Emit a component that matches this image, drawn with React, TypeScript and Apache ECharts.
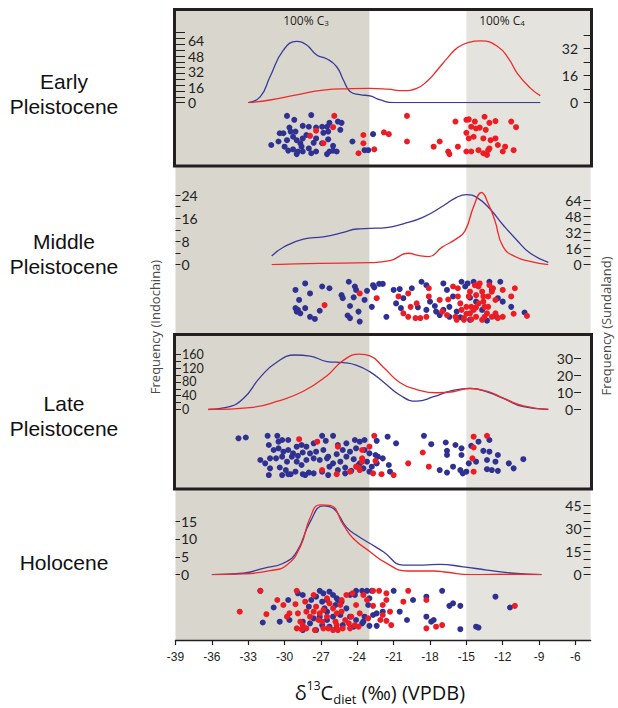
import React, { useEffect, useRef } from "react";
import * as echarts from "echarts";

// ---------- axis / band data ----------
const xTicks = [-39, -36, -33, -30, -27, -24, -21, -18, -15, -12, -9, -6];
const xMin = -39;
const xMax = -4.75;
const c3Band = [-39, -23];
const c4Band = [-15, -4.75];

// ---------- density curves ----------
const earlyBlueCurve = [[-33, 0], [-32, 6.2], [-31.2, 26.7], [-30.1, 54], [-29, 63], [-28.2, 59.7], [-27.35, 49], [-26.5, 45], [-25.7, 37], [-25.15, 23.4], [-24.6, 11.6], [-23.8, 8.3], [-22.95, 6.9], [-22.1, 2.8], [-21, 0], [-19, 0], [-15, 0], [-12, 0], [-8.9, 0]];
const earlyRedCurve = [[-33, 0], [-31.2, 1.6], [-29, 4.6], [-26.8, 7.5], [-24.5, 8.3], [-22.95, 8.5], [-21.5, 8], [-20.2, 7.1], [-19.1, 8.5], [-18.2, 13], [-17.4, 19.4], [-16.5, 27], [-15.8, 32.2], [-14.8, 35.8], [-13.8, 36.6], [-12.4, 33.2], [-11.5, 26], [-10.8, 17.4], [-9.7, 8.5], [-8.9, 4.2]];
const middleBlueCurve = [[-31.06, 3], [-30.1, 6], [-28.45, 8.8], [-26.8, 9.6], [-25.15, 11.1], [-24.05, 12.3], [-22.95, 12.5], [-21.6, 12.8], [-20.2, 14.1], [-18.55, 16.4], [-16.9, 20.3], [-15.8, 23.2], [-14.97, 24.1], [-14.15, 23.2], [-13.05, 19.2], [-11.95, 13.6], [-10.85, 8.5], [-9.75, 4.0], [-8.24, 0.8]];
const middleRedCurve = [[-31.06, 0], [-27.1, 1.3], [-22.95, 2], [-21.3, 4], [-19.8, 11.4], [-18.9, 9], [-18.1, 8], [-17, 17.5], [-15.8, 26], [-15.1, 34], [-14.4, 57.9], [-13.75, 72], [-13.2, 61], [-12.65, 44], [-11.95, 17.5], [-10.85, 7.4], [-9.75, 3.4], [-8.24, 0]];
const lateBlueCurve = [[-36.3, 0], [-34.8, 6], [-33.4, 32], [-32, 94], [-30.65, 137], [-29.14, 158], [-27.9, 155], [-26.5, 139], [-25.15, 136], [-24.05, 128], [-22.95, 109], [-21.85, 80], [-20.5, 42], [-19.1, 24], [-17.7, 37], [-16.35, 53], [-14.7, 61], [-13.3, 51], [-11.95, 32], [-10.3, 8], [-8.24, 0]];
const lateRedCurve = [[-36.3, 0], [-32.6, 1.3], [-30.65, 4.7], [-28.45, 10.7], [-26.5, 19.8], [-25.15, 28.8], [-23.8, 32.4], [-22.95, 31.4], [-21.85, 24.8], [-20.5, 15.8], [-19.1, 11.7], [-17.45, 9.8], [-16.1, 10.4], [-14.7, 12.3], [-13.3, 10.7], [-11.95, 6.7], [-10.3, 2.1], [-8.24, 0.1]];
const holoBlueCurve = [[-36, 0], [-33.4, 0.4], [-31.75, 1.8], [-30.1, 3.2], [-29, 6.4], [-27.9, 14.7], [-26.8, 19.2], [-25.95, 18.4], [-24.9, 13.3], [-24.05, 11], [-22.95, 8.7], [-21.85, 6.4], [-20.2, 2.7], [-18.55, 2.7], [-17.2, 2.9], [-15.25, 2.2], [-13.3, 1.3], [-11.1, 0.4], [-8.8, 0]];
const holoRedCurve = [[-36, 0], [-33.4, 0.5], [-31.2, 2.6], [-29.8, 6.4], [-28.7, 18.3], [-27.9, 37], [-27.1, 45.6], [-26.25, 45.2], [-25.15, 32.5], [-24.35, 23.8], [-22.95, 15], [-21.6, 7.5], [-19.9, 2.4], [-17.7, 2.4], [-16.6, 1.6], [-14.7, 0], [-10.85, 0.3], [-8.8, 0]];

// ---------- individual values: [d13C, jitter 0..10] ----------
const earlyBlueDots = [[-29.8, 0.6], [-29.2, 1.5], [-27.8, 0.4], [-28.5, 2.9], [-29.6, 3.3], [-30.4, 4.6], [-31.1, 7.3], [-30.5, 6.5], [-30.0, 7.7], [-29.7, 8.6], [-29.3, 5.4], [-29.0, 6.2], [-28.7, 6.9], [-28.5, 5.8], [-28.2, 5.0], [-28.0, 3.1], [-27.4, 3.3], [-26.9, 3.1], [-26.5, 3.1], [-26.3, 2.2], [-25.6, 1.9], [-25.3, 2.2], [-25.4, 3.8], [-26.4, 4.2], [-26.8, 4.5], [-27.4, 5.8], [-27.6, 6.8], [-28.0, 8.1], [-28.5, 8.8], [-28.9, 8.8], [-29.3, 8.3], [-29.8, 6.2], [-30.1, 4.6], [-29.5, 4.2], [-29.1, 4.2], [-28.6, 7.7], [-27.8, 9.2], [-27.4, 8.8], [-26.5, 9.4], [-26.3, 8.8], [-26.0, 8.6], [-25.7, 8.8], [-26.0, 7.5], [-26.4, 6.0], [-26.9, 6.9], [-29.0, 9.4], [-24.4, 6.5], [-23.4, 8.5], [-23.1, 8.5], [-22.7, 4.8]];
const earlyRedDots = [[-25.9, 0.6], [-26.0, 3.2], [-27.4, 4.0], [-27.9, 5.2], [-26.8, 6.9], [-23.5, 5.0], [-23.5, 6.9], [-23.9, 9.2], [-22.6, 8.3], [-21.8, 4.4], [-21.4, 4.8], [-19.9, 0.6], [-19.9, 6.5], [-17.7, 7.7], [-17.2, 6.5], [-16.5, 8.8], [-16.4, 9.4], [-15.9, 1.9], [-15.7, 7.7], [-15.0, 1.5], [-14.8, 1.4], [-15.0, 4.5], [-14.6, 3.1], [-14.3, 1.9], [-14.2, 3.5], [-14.4, 5.4], [-14.8, 5.8], [-13.9, 3.3], [-13.5, 0.8], [-13.4, 3.8], [-13.1, 2.2], [-12.6, 1.8], [-13.6, 5.8], [-13.0, 6.2], [-12.6, 5.8], [-15.0, 8.8], [-14.0, 8.5], [-13.6, 9.2], [-13.2, 8.5], [-13.3, 9.6], [-13.1, 8.1], [-12.4, 7.3], [-11.8, 7.7], [-12.0, 8.8], [-11.3, 1.9], [-10.9, 3.2], [-11.1, 8.5], [-14.6, 8.8]];
const middleBlueDots = [[-29.1, 2.3], [-28.3, 0.8], [-27.9, 3.1], [-26.9, 1.5], [-26.3, 1.9], [-28.8, 4.6], [-29.1, 6.5], [-29.0, 7.3], [-28.7, 7.7], [-28.3, 6.5], [-28.9, 6.9], [-27.9, 8.5], [-27.5, 9.0], [-27.1, 7.1], [-25.3, 3.5], [-25.2, 4.2], [-24.7, 0.4], [-24.2, 1.5], [-24.1, 2.3], [-24.3, 4.0], [-24.6, 6.0], [-24.8, 8.2], [-24.6, 8.8], [-23.9, 7.3], [-23.8, 9.6], [-23.4, 4.6], [-23.2, 2.5], [-22.7, 1.2], [-22.6, 1.7], [-22.2, 0.9], [-21.9, 0.9], [-22.8, 6.2], [-21.6, 8.5], [-21.0, 2.3], [-20.5, 2.1], [-20.2, 4.2], [-20.8, 5.4], [-20.4, 6.5], [-19.5, 1.9], [-19.0, 6.3], [-18.7, 0.4], [-18.3, 1.2], [-18.0, 5.0], [-17.6, 6.0], [-17.5, 7.3], [-17.2, 8.1], [-16.9, 0.8], [-16.6, 2.3], [-16.4, 6.2], [-16.1, 3.8], [-15.8, 7.3], [-15.4, 0.4], [-15.1, 1.5], [-14.9, 0.8], [-14.7, 4.1], [-14.4, 0.4], [-14.2, 5.0], [-13.7, 6.9], [-13.1, 0.4], [-12.9, 2.3], [-12.2, 0.4], [-12.4, 4.2], [-12.0, 5.0], [-11.3, 6.2], [-10.2, 7.5], [-12.5, 8.5], [-13.3, 9.4], [-15.5, 8.6], [-16.4, 8.5], [-18.3, 6.9], [-16.9, 6.9], [-14.7, 9.2]];
const middleRedDots = [[-26.7, 5.8], [-23.8, 3.1], [-22.4, 4.2], [-20.6, 3.8], [-19.8, 3.1], [-19.6, 6.2], [-20.2, 7.7], [-19.8, 8.5], [-19.2, 8.8], [-18.8, 8.8], [-18.3, 8.5], [-18.1, 3.8], [-19.1, 5.4], [-18.1, 1.9], [-17.2, 4.6], [-17.0, 7.3], [-16.6, 8.1], [-16.5, 4.5], [-16.1, 1.5], [-15.9, 8.5], [-15.7, 1.9], [-15.7, 3.8], [-15.5, 5.4], [-15.4, 6.9], [-15.2, 8.8], [-15.0, 7.8], [-14.8, 3.8], [-14.7, 2.7], [-14.6, 6.2], [-14.4, 6.9], [-14.3, 1.2], [-14.2, 3.5], [-14.0, 1.5], [-13.9, 0.8], [-13.7, 2.7], [-13.6, 5.0], [-13.5, 6.2], [-13.3, 7.7], [-13.2, 3.8], [-13.1, 1.2], [-12.9, 2.7], [-12.8, 1.9], [-12.6, 4.6], [-13.7, 9.2], [-14.2, 8.5], [-14.7, 7.7], [-15.2, 9.2], [-15.8, 9.2], [-13.5, 8.5], [-12.9, 8.5], [-12.6, 7.7], [-12.4, 8.8], [-12.0, 8.5], [-12.0, 2.3], [-11.3, 3.8], [-11.0, 1.9], [-11.1, 7.8], [-10.0, 8.3], [-14.2, 6.3], [-13.6, 3.8], [-14.0, 5.4], [-13.2, 6.2], [-15.0, 6.2], [-14.6, 9.1]];
const lateBlueDots = [[-33.8, 0.8], [-33.2, 0.6], [-31.4, 0.2], [-30.6, 0.2], [-30.5, 1.6], [-30.2, 1.2], [-29.7, 1.2], [-29.0, 2.8], [-28.6, 2.4], [-28.2, 2.8], [-27.6, 2.0], [-26.9, 0.2], [-26.6, 1.4], [-26.0, 0.2], [-25.6, 2.4], [-24.9, 2.0], [-24.2, 1.2], [-23.8, 1.6], [-23.4, 1.2], [-22.4, 1.4], [-21.5, 0.4], [-20.8, 2.0], [-31.3, 2.4], [-30.9, 3.6], [-30.5, 3.2], [-30.1, 4.0], [-29.7, 3.6], [-29.3, 4.4], [-28.9, 5.0], [-28.5, 4.2], [-27.9, 4.4], [-27.4, 4.0], [-26.8, 3.6], [-26.4, 5.2], [-25.7, 4.6], [-25.2, 3.6], [-24.6, 4.0], [-24.1, 3.2], [-23.4, 3.6], [-23.0, 4.4], [-22.5, 4.8], [-32.0, 6.0], [-31.6, 6.8], [-31.2, 5.6], [-30.7, 5.6], [-30.2, 5.2], [-29.8, 6.4], [-29.4, 5.2], [-29.0, 6.4], [-28.6, 7.2], [-28.2, 6.0], [-27.6, 5.6], [-27.1, 6.0], [-26.5, 5.6], [-26.0, 6.8], [-25.4, 6.4], [-24.9, 5.2], [-24.3, 5.8], [-23.8, 6.8], [-23.2, 6.4], [-22.8, 7.6], [-22.3, 5.2], [-21.9, 5.6], [-31.2, 8.0], [-30.4, 7.8], [-29.9, 8.4], [-29.5, 9.4], [-29.1, 8.8], [-28.5, 9.4], [-28.0, 9.0], [-27.6, 9.2], [-26.9, 8.8], [-26.3, 7.6], [-25.6, 8.4], [-25.0, 7.8], [-24.5, 8.6], [-23.9, 7.2], [-23.5, 8.0], [-23.0, 8.8], [-22.4, 6.8], [-21.4, 7.2], [-21.3, 8.8], [-31.3, 9.6], [-30.2, 9.6], [-29.7, 9.4], [-28.3, 9.6], [-26.4, 9.6], [-25.0, 9.2], [-18.5, 0.2], [-17.9, 2.2], [-16.7, 1.8], [-15.9, 2.4], [-15.4, 3.2], [-16.6, 3.8], [-16.6, 4.8], [-15.4, 4.8], [-14.6, 2.6], [-14.0, 1.6], [-13.1, 1.2], [-13.6, 3.8], [-13.1, 4.0], [-12.4, 4.8], [-14.2, 6.4], [-13.3, 6.0], [-12.6, 6.4], [-14.8, 6.8], [-17.2, 8.4], [-16.6, 9.0], [-16.1, 7.6], [-15.5, 8.4], [-15.3, 9.2], [-15.0, 8.8], [-13.3, 8.2], [-12.9, 8.4], [-12.4, 8.6], [-11.5, 6.8], [-11.1, 8.0], [-10.3, 5.8]];
const lateRedDots = [[-28.8, 1.0], [-27.3, 1.6], [-25.6, 2.8], [-26.9, 8.4], [-25.7, 9.4], [-24.6, 8.8], [-24.1, 7.6], [-23.6, 6.4], [-23.6, 3.6], [-23.0, 2.8], [-22.6, 0.2], [-23.6, 5.6], [-23.9, 7.8], [-23.8, 8.4], [-22.7, 9.2], [-22.0, 9.4], [-21.0, 9.6], [-22.5, 6.2], [-19.8, 6.8], [-18.6, 4.2], [-18.1, 7.6], [-14.4, 0.4], [-13.3, 0.2], [-14.4, 3.0], [-14.5, 5.6], [-14.4, 8.8]];
const holoBlueDots = [[-32.0, 0.2], [-31.8, 7.8], [-30.4, 7.6], [-29.7, 2.4], [-30.9, 4.2], [-29.6, 7.2], [-28.9, 0.8], [-28.5, 1.2], [-28.0, 4.0], [-27.8, 2.4], [-27.4, 1.6], [-27.1, 0.2], [-26.8, 0.8], [-26.5, 2.4], [-26.3, 0.4], [-26.0, 1.2], [-25.8, 3.6], [-25.6, 2.4], [-25.3, 2.8], [-24.9, 4.4], [-24.6, 1.2], [-24.2, 1.2], [-24.1, 0.2], [-23.6, 0.2], [-23.2, 0.2], [-22.8, 0.2], [-23.0, 2.0], [-23.1, 3.6], [-22.7, 6.0], [-22.4, 5.6], [-21.9, 5.2], [-20.5, 5.2], [-21.0, 0.2], [-19.4, 2.4], [-18.3, 1.6], [-17.0, 0.2], [-16.4, 3.8], [-16.1, 3.2], [-15.5, 3.8], [-19.9, 7.2], [-18.3, 6.4], [-17.9, 7.6], [-17.7, 7.2], [-15.5, 9.4], [-14.2, 8.8], [-14.0, 9.0], [-12.6, 1.6], [-11.4, 4.2], [-28.5, 9.6], [-27.4, 9.6], [-26.9, 8.4], [-26.5, 7.2], [-26.3, 8.8], [-25.7, 9.2], [-25.2, 8.4], [-24.3, 8.8], [-23.5, 7.6], [-23.0, 8.6], [-22.4, 8.6], [-26.5, 5.2], [-26.0, 6.4], [-25.4, 6.0], [-27.6, 6.8], [-27.9, 8.0], [-28.5, 7.6], [-26.9, 2.8], [-26.7, 4.4], [-24.6, 6.4], [-24.1, 7.2], [-23.6, 8.0], [-23.4, 6.4], [-27.1, 6.4], [-25.7, 2.0]];
const holoRedDots = [[-33.7, 5.2], [-32.0, 0.2], [-31.5, 5.8], [-30.6, 2.4], [-30.1, 3.6], [-29.8, 6.4], [-29.6, 5.6], [-29.0, 0.2], [-29.1, 3.4], [-28.9, 5.6], [-28.7, 7.6], [-28.3, 2.8], [-28.2, 5.2], [-27.9, 6.4], [-27.6, 1.2], [-27.4, 4.0], [-27.2, 7.2], [-26.9, 7.6], [-26.8, 4.8], [-26.5, 6.4], [-26.4, 9.2], [-26.3, 3.2], [-26.0, 4.4], [-25.8, 7.6], [-25.7, 8.4], [-25.4, 3.6], [-25.3, 5.2], [-25.2, 9.2], [-25.0, 7.2], [-24.9, 1.2], [-24.7, 8.0], [-24.5, 6.4], [-24.4, 0.8], [-24.1, 3.6], [-23.9, 8.8], [-23.8, 5.6], [-23.5, 1.2], [-23.2, 2.4], [-23.1, 6.8], [-22.7, 0.2], [-22.2, 0.2], [-21.9, 3.6], [-21.6, 2.4], [-21.6, 0.8], [-21.3, 5.2], [-21.6, 7.4], [-21.2, 8.4], [-20.2, 2.8], [-19.8, 0.2], [-18.3, 2.4], [-18.3, 9.2], [-17.5, 8.8], [-17.0, 8.4], [-21.9, 6.0], [-22.1, 7.2], [-22.7, 3.8], [-26.5, 2.0], [-27.6, 5.2], [-28.5, 8.4], [-27.1, 5.6], [-25.7, 5.6], [-25.3, 2.4], [-11.0, 3.8], [-29.0, 9.2], [-28.6, 9.4], [-28.2, 9.2], [-27.5, 9.6], [-26.8, 9.2], [-26.0, 9.6], [-25.6, 9.6], [-24.6, 9.2], [-24.2, 8.4]];

// ---------- tick values ----------
const earlyLeftLabels = [0, 16, 32, 48, 64];
const earlyLeftTicks = [0, 6, 12, 18, 24, 30, 36, 42, 48, 54, 60, 66, 72];
const earlyRightLabels = [0, 16, 32];
const earlyRightTicks = [0, 8, 16, 24, 32, 40];
const middleLeftLabels = [0, 8, 16, 24];
const middleLeftTicks = [0, 4, 8, 12, 16, 20, 24];
const middleRightLabels = [0, 16, 32, 48, 64];
const middleRightTicks = [0, 8, 16, 24, 32, 40, 48, 56, 64];
const lateLeftLabels = [0, 40, 80, 120, 160];
const lateLeftTicks = [0, 20, 40, 60, 80, 100, 120, 140, 160];
const lateRightLabels = [0, 10, 20, 30];
const lateRightTicks = [0, 10, 20, 30];
const holoLeftLabels = [0, 5, 10, 15];
const holoLeftTicks = [0, 5, 10, 15];
const holoRightLabels = [0, 15, 30, 45];
const holoRightTicks = [0, 5, 10, 15, 20, 25, 30, 35, 40, 45];

// ---------- styling / layout ----------
const COL = {
  blueDot: "#2e3192",
  redDot: "#ed1c24",
  blueLine: "#3a3a9c",
  redLine: "#ee2b2b",
  c3: "#d9d6ce",
  c4: "#e4e3de",
  ink: "#231f20",
};
const W = 618;
const H = 708;
const PL = 175.5;
const PR = 27.4;
const NUM_FONT = "Lato, 'Open Sans', sans-serif";
const TITLE_FONT = "'Open Sans', sans-serif";

const panels = [
  {
    name: "Early\nPleistocene", nameY: 94, base: 102.7, top: 25, lRef: [64, 40.5], rRef: [32, 48.7],
    dotTop: 113.3, dotBottom: 156.7,
    blue: earlyBlueCurve, red: earlyRedCurve, blueDots: earlyBlueDots, redDots: earlyRedDots,
    lLabels: earlyLeftLabels, lTicks: earlyLeftTicks, rLabels: earlyRightLabels, rTicks: earlyRightTicks,
    lTickLen: 9.5, lMargin: 12.5, rTickLen: 7, rMargin: 12.5, rOffset: 0, box: [9.5, 166], lFont: 14,
  },
  {
    name: "Middle\nPleistocene", nameY: 253.5, base: 264.7, top: 178, lRef: [24, 195], rRef: [64, 200.5],
    dotTop: 280, dotBottom: 323.3,
    blue: middleBlueCurve, red: middleRedCurve, blueDots: middleBlueDots, redDots: middleRedDots,
    lLabels: middleLeftLabels, lTicks: middleLeftTicks, rLabels: middleRightLabels, rTicks: middleRightTicks,
    lTickLen: 5, lMargin: 6, rTickLen: 7, rMargin: 9, rOffset: 0, box: null, lFont: 14,
  },
  {
    name: "Late\nPleistocene", nameY: 415.5, base: 409.5, top: 345, lRef: [160, 354.3], rRef: [30, 358.3],
    dotTop: 435, dotBottom: 476.7,
    blue: lateBlueCurve, red: lateRedCurve, blueDots: lateBlueDots, redDots: lateRedDots,
    lLabels: lateLeftLabels, lTicks: lateLeftTicks, rLabels: lateRightLabels, rTicks: lateRightTicks,
    lTickLen: 5.5, lMargin: 6.5, rTickLen: 7, rMargin: 8, rOffset: -9.5, box: [334.5, 489], lFont: 12.5,
  },
  {
    name: "Holocene", nameY: 562, base: 574.7, top: 495, lRef: [15, 521], rRef: [45, 505.7],
    dotTop: 590, dotBottom: 631.7,
    blue: holoBlueCurve, red: holoRedCurve, blueDots: holoBlueDots, redDots: holoRedDots,
    lLabels: holoLeftLabels, lTicks: holoLeftTicks, rLabels: holoRightLabels, rTicks: holoRightTicks,
    lTickLen: 4.5, lMargin: 5.5, rTickLen: 7, rMargin: 9, rOffset: 0, box: null, lFont: 14,
  },
];

function hiddenX(gridIndex: number) {
  return { type: "value", gridIndex, min: xMin, max: xMax, show: false };
}

function buildOption() {
  const grid: any[] = [];
  const xAxis: any[] = [];
  const yAxis: any[] = [];
  const series: any[] = [];
  const graphic: any[] = [];

  // background grid with bands + x axis
  grid.push({ left: PL, right: PR, top: 9, bottom: 68, outerBoundsMode: "none" });
  xAxis.push({
    type: "value", gridIndex: 0, min: xMin, max: xMax, z: 5,
    axisLine: { show: true, lineStyle: { color: COL.ink, width: 1.4 } },
    axisTick: { show: true, length: 5, lineStyle: { color: COL.ink, width: 1.2 }, customValues: xTicks },
    axisLabel: {
      customValues: xTicks, margin: 11, color: COL.ink, fontSize: 12,
      fontFamily: "'Liberation Sans', Arial, sans-serif",
    },
    splitLine: { show: false },
  });
  yAxis.push({ type: "value", gridIndex: 0, min: 0, max: 1, show: false });
  series.push({
    type: "line", xAxisIndex: 0, yAxisIndex: 0, data: [[xMin, 0]], showSymbol: false, silent: true, z: 1,
    lineStyle: { opacity: 0 },
    markArea: {
      silent: true,
      data: [
        [{ xAxis: c3Band[0], itemStyle: { color: COL.c3 } }, { xAxis: c3Band[1] }],
        [{ xAxis: c4Band[0], itemStyle: { color: COL.c4 } }, { xAxis: c4Band[1] }],
      ],
    },
  });

  panels.forEach((p) => {
    const gCurve = grid.length;
    const h = p.base - p.top;
    const lMax = (p.lRef[0] * h) / (p.base - p.lRef[1]);
    const rMax = (p.rRef[0] * h) / (p.base - p.rRef[1]);
    grid.push({ left: PL, right: PR, top: p.top, height: h, outerBoundsMode: "none" });
    xAxis.push(hiddenX(gCurve));
    const yL = yAxis.length;
    yAxis.push({
      type: "value", gridIndex: gCurve, min: 0, max: lMax, position: "left", z: 6,
      axisLine: { show: false },
      axisTick: { show: true, inside: true, length: p.lTickLen, lineStyle: { color: COL.ink, width: 1 }, customValues: p.lTicks },
      axisLabel: {
        inside: true, margin: p.lMargin, customValues: p.lLabels, color: COL.ink,
        fontSize: p.lFont, lineHeight: p.lFont, fontFamily: NUM_FONT,
      },
      splitLine: { show: false },
    });
    const yR = yAxis.length;
    yAxis.push({
      type: "value", gridIndex: gCurve, min: 0, max: rMax, position: "right", offset: p.rOffset, z: 6,
      axisLine: { show: false },
      axisTick: { show: true, inside: true, length: p.rTickLen, lineStyle: { color: COL.ink, width: 1 }, customValues: p.rTicks },
      axisLabel: {
        inside: true, margin: p.rMargin, customValues: p.rLabels, color: COL.ink,
        fontSize: 14, lineHeight: 14, fontFamily: NUM_FONT,
      },
      splitLine: { show: false },
    });
    series.push({
      type: "line", name: "Indochina", xAxisIndex: gCurve, yAxisIndex: yL, data: p.blue,
      smooth: 0.5, showSymbol: false, silent: true, z: 3,
      lineStyle: { color: COL.blueLine, width: 1.3 },
    });
    series.push({
      type: "line", name: "Sundaland", xAxisIndex: gCurve, yAxisIndex: yR, data: p.red,
      smooth: 0.5, showSymbol: false, silent: true, z: 3,
      lineStyle: { color: COL.redLine, width: 1.3 },
    });

    const gDot = grid.length;
    grid.push({ left: PL, right: PR, top: p.dotTop, height: p.dotBottom - p.dotTop, outerBoundsMode: "none" });
    xAxis.push(hiddenX(gDot));
    const yD = yAxis.length;
    yAxis.push({ type: "value", gridIndex: gDot, min: 0, max: 10, inverse: true, show: false });
    series.push({
      type: "scatter", xAxisIndex: gDot, yAxisIndex: yD, data: p.blueDots, symbolSize: 6, silent: true, z: 3,
      itemStyle: { color: COL.blueDot, opacity: 1 },
    });
    series.push({
      type: "scatter", xAxisIndex: gDot, yAxisIndex: yD, data: p.redDots, symbolSize: 6, silent: true, z: 4,
      itemStyle: { color: COL.redDot, opacity: 1 },
    });

    graphic.push({
      type: "text", x: 64, y: p.nameY, z: 20, silent: true,
      style: {
        text: p.name, fontSize: 21, lineHeight: 25, fontFamily: "'Liberation Sans', Arial, sans-serif",
        fill: "#111", align: "center", verticalAlign: "middle",
      },
    });
    if (p.box) {
      graphic.push({
        type: "rect", z: 20, silent: true,
        shape: { x: 174.5, y: p.box[0], width: 417, height: p.box[1] - p.box[0] },
        style: { fill: "none", stroke: COL.ink, lineWidth: 3 },
      });
    }
  });

  // band titles
  const bandTitle = (text: string, x: number) => ({
    type: "text", x, y: 20, z: 20, silent: true,
    style: {
      text, fontSize: 12, fontFamily: TITLE_FONT, fill: COL.ink,
      align: "center", verticalAlign: "middle",
      rich: { s: { fontSize: 8, lineHeight: 8, verticalAlign: "bottom", fill: COL.ink, fontFamily: TITLE_FONT } },
    },
  });
  graphic.push(bandTitle("100% C{s|3}", 306));
  graphic.push(bandTitle("100% C{s|4}", 502));

  // frequency labels
  graphic.push({
    type: "text", x: 155, y: 327, rotation: Math.PI / 2, z: 20, silent: true,
    style: {
      text: "Frequency (Indochina)", fontSize: 13, fontFamily: TITLE_FONT, fill: "#4a4a4a",
      align: "center", verticalAlign: "middle",
    },
  });
  graphic.push({
    type: "text", x: 606, y: 326, rotation: Math.PI / 2, z: 20, silent: true,
    style: {
      text: "Frequency (Sundaland)", fontSize: 13, fontFamily: TITLE_FONT, fill: "#4a4a4a",
      align: "center", verticalAlign: "middle",
    },
  });
  // x-axis title
  graphic.push({
    type: "text", x: 380, y: 692, z: 20, silent: true,
    style: {
      text: "δ{sup|13}C{sub|diet} (‰) (VPDB)", fontSize: 20, lineHeight: 26,
      fontFamily: TITLE_FONT, fill: "#111", align: "center", verticalAlign: "middle",
      rich: {
        sup: { fontSize: 12, lineHeight: 13, verticalAlign: "top", fill: "#111", fontFamily: TITLE_FONT },
        sub: { fontSize: 13, lineHeight: 13, verticalAlign: "bottom", fill: "#111", fontFamily: TITLE_FONT },
      },
    },
  });

  return {
    animation: false,
    backgroundColor: "#ffffff",
    grid, xAxis, yAxis, series, graphic,
  };
}

export default function App() {
  const ref = useRef<HTMLDivElement>(null);
  useEffect(() => {
    if (!ref.current) return;
    const chart = echarts.init(ref.current, null, { renderer: "svg" });
    chart.setOption(buildOption() as any);
    return () => chart.dispose();
  }, []);
  return <div ref={ref} style={{ position: "absolute", left: 0, top: 0, width: W, height: H }} />;
}
